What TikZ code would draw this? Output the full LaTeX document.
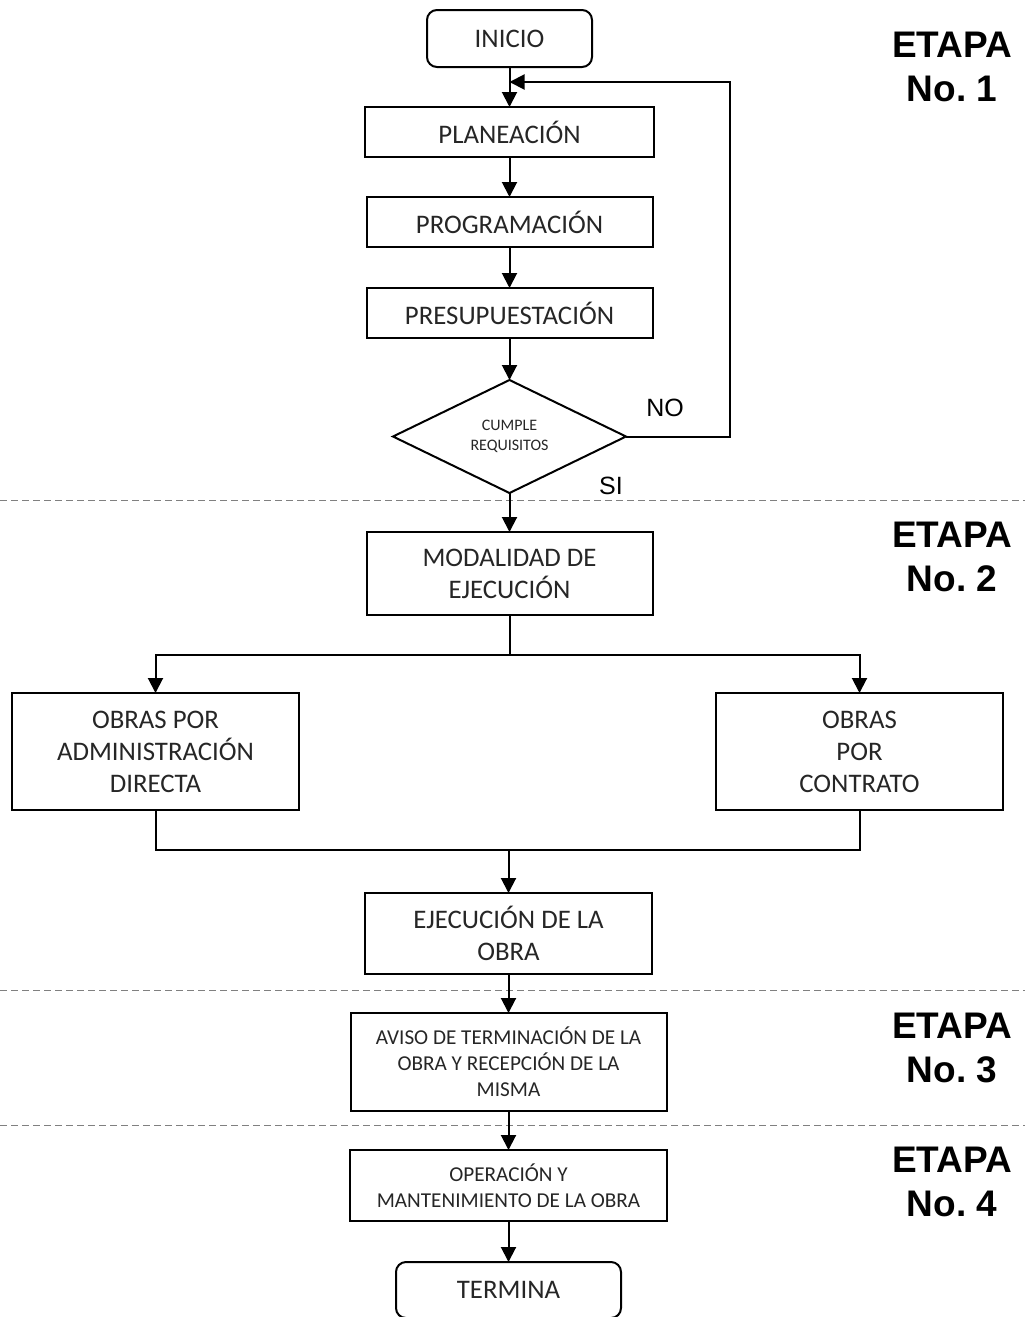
\documentclass[tikz,border=0pt]{standalone}
\usepackage{fontspec}
\newfontfamily\boxfont{Carlito}
\newfontfamily\labelfont{Liberation Sans}
\usetikzlibrary{positioning,shapes.geometric,arrows.meta}

\begin{document}
\begin{tikzpicture}[x=0.5pt, y=-0.5pt, node distance={20pt},
  main/.style = {draw, line width=1pt, align=center, inner sep=0pt, outer sep=0pt, text=black!85, font=\boxfont\fontsize{13.4}{16}\selectfont},
  term/.style = {main, rounded corners=5pt},
  dec/.style = {main, diamond, font=\boxfont\fontsize{8}{10}\selectfont},
  minor/.style = {font=\boxfont\fontsize{10.6}{13}\selectfont},
  etapa/.style = {align=center, font=\labelfont\bfseries\fontsize{18.5}{22}\selectfont},
  resp/.style = {font=\labelfont\fontsize{12.5}{15}\selectfont},
  arr/.style = {line width=1pt, -{Triangle[length=7.5pt,width=7.5pt]}},
  wire/.style = {line width=1pt},
  sep/.style = {gray, line width=0.5pt, dash pattern=on 3.5pt off 2pt}]
			\useasboundingbox (0,0) rectangle (1025,1317);
			% stage separators
			\draw[sep] (0,500) -- (1025,500);
			\draw[sep] (0,990) -- (1025,990);
			\draw[sep] (0,1125) -- (1025,1125);
			\node[term, minimum width=82.5pt, minimum height=28.5pt] (inicio) at (509.5,38.5) {INICIO};
			\node[main, minimum width=144.5pt, minimum height=25pt] (plan) [below=of inicio] {PLANEACIÓN};
			\node[main, minimum width=143pt, minimum height=25pt] (prog) [below=of plan] {PROGRAMACIÓN};
			\node[main, minimum width=143pt, minimum height=25pt] (pres) [below=20.5pt of prog] {PRESUPUESTACIÓN};
			\node[dec, minimum width=116.5pt, minimum height=56.5pt] (cumple) [below=21pt of pres] {CUMPLE\\REQUISITOS};
			\node[main, minimum width=143pt, minimum height=41.5pt] (modal) [below=19.5pt of cumple] {MODALIDAD DE\\EJECUCIÓN};
			\node[main, minimum width=143.5pt, minimum height=58.5pt] (admin) at (155.5,751.5) {OBRAS POR\\ADMINISTRACIÓN\\DIRECTA};
			\node[main, minimum width=143.5pt, minimum height=58.5pt] (contrato) at (859.5,751.5) {OBRAS\\POR\\CONTRATO};
			\node[main, minimum width=143.5pt, minimum height=40.5pt] (ejec) at (508.5,933.5) {EJECUCIÓN DE LA\\OBRA};
			\node[main, minor, minimum width=158pt, minimum height=49pt] (aviso) [below=19.5pt of ejec] {AVISO DE TERMINACIÓN DE LA\\OBRA Y RECEPCIÓN DE LA\\MISMA};
			\node[main, minor, minimum width=158.5pt, minimum height=35.5pt] (oper) [below=19.5pt of aviso] {OPERACIÓN Y\\MANTENIMIENTO DE LA OBRA};
			\node[term, minimum width=112.5pt, minimum height=28pt] (fin) [below=20.5pt of oper] {TERMINA};
			% labels
			\node[resp] (no) at (665,408) {NO};
			\node[resp] (si) at (611,486) {SI};
			\node[etapa] (etapa1) at (952,66.5) {ETAPA\\No.\ 1};
			\node[etapa] (etapa2) at (952,556.5) {ETAPA\\No.\ 2};
			\node[etapa] (etapa3) at (952,1047.5) {ETAPA\\No.\ 3};
			\node[etapa] (etapa4) at (952,1182) {ETAPA\\No.\ 4};
			% flow
			\draw[arr] (inicio) -- (plan);
			\draw[arr] (plan) -- (prog);
			\draw[arr] (prog) -- (pres);
			\draw[arr] (pres) -- (cumple);
			\draw[arr] (cumple) -- (modal);
			\coordinate (back) at ([yshift=-7.5pt]inicio.south);
			\draw[arr] (cumple.east) -- ++(104,0) |- (back);
			\coordinate (split) at ([yshift=-20pt]modal.south);
			\draw[wire] (modal) -- (split);
			\draw[arr] (split) -| (admin);
			\draw[arr] (split) -| (contrato);
			\coordinate (merge) at ([yshift=21.5pt]ejec.north);
			\draw[wire] (admin) |- (merge);
			\draw[wire] (contrato) |- (merge);
			\draw[arr] (merge) -- (ejec);
			\draw[arr] (ejec) -- (aviso);
			\draw[arr] (aviso) -- (oper);
			\draw[arr] (oper) -- (fin);
		\end{tikzpicture}
\end{document}
